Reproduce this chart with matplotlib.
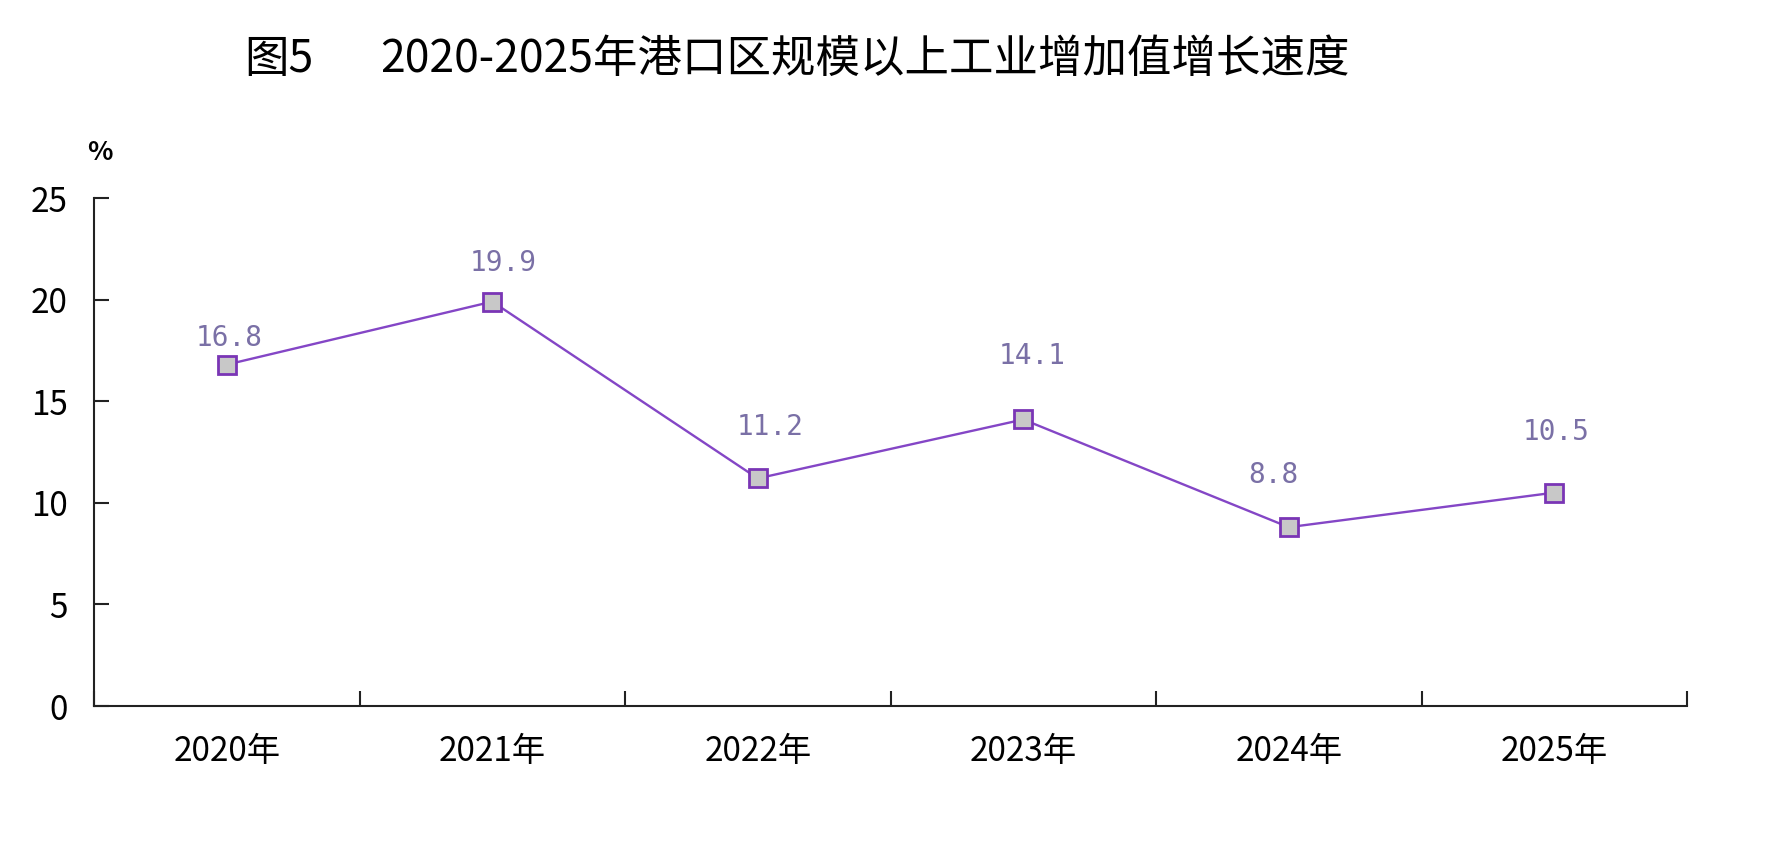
import matplotlib
matplotlib.use("Agg")
import matplotlib.pyplot as plt
import numpy as np

plt.rcParams['font.family'] = ['Noto Sans CJK SC', 'DejaVu Sans']

years = ["2020年", "2021年", "2022年", "2023年", "2024年", "2025年"]
growth = [16.8, 19.9, 11.2, 14.1, 8.8, 10.5]
yticks = [0, 5, 10, 15, 20, 25]
title_prefix = "图5"
title_main = "2020-2025年港口区规模以上工业增加值增长速度"

# label placement (pixel offsets from each point), layout only
label_dx = [2, 11, 12, 9, -15, 2]
label_dy = [27, 39, 51, 63, 52, 61]

W, H = 1769, 841
fig = plt.figure(figsize=(W / 100, H / 100), dpi=100)
ax = fig.add_axes([94 / W, 1 - 706 / H, (1687 - 94) / W, (706 - 198) / H])

x = np.arange(len(years))
ax.plot(x, growth, color="#8446C6", lw=1.7, marker="s", ms=12.5,
        mfc="#C8C8C8", mec="#7A35B5", mew=2, zorder=3, clip_on=False)

for xi, v, dx, dy in zip(x, growth, label_dx, label_dy):
    ax.annotate(f"{v}", (xi, v), xytext=(dx * 0.72, dy * 0.72),
                textcoords="offset points",
                ha="center", va="center", fontsize=20, color="#7A70A6",
                family="DejaVu Sans Mono")

ax.set_xlim(-0.5, len(years) - 0.5)
ax.set_ylim(0, 25)
ax.set_yticks(yticks)
ax.set_yticklabels([str(t) for t in yticks])
ax.set_xticks(x)
ax.set_xticklabels(years)
ax.set_xticks(np.arange(-0.5, len(years), 1.0), minor=True)

for s in ["top", "right"]:
    ax.spines[s].set_visible(False)
for s in ["left", "bottom"]:
    ax.spines[s].set_linewidth(1.5)
    ax.spines[s].set_color("#222222")

ax.tick_params(axis="y", direction="in", length=11, width=1.5, color="#222222",
               labelsize=24, pad=19)
ax.tick_params(axis="x", which="major", length=0, labelsize=24, pad=20)
ax.tick_params(axis="x", which="minor", direction="in", length=11, width=1.5,
               color="#222222")

fig.text(244 / W, 1 - 59 / H, title_prefix, fontsize=32, ha="left", va="center")
fig.text(380 / W, 1 - 59 / H, title_main, fontsize=32, ha="left", va="center")
fig.text(100 / W, 1 - 152 / H, "%", fontsize=19, fontweight="bold",
         ha="center", va="center")

fig.savefig("out.png", dpi=100)
